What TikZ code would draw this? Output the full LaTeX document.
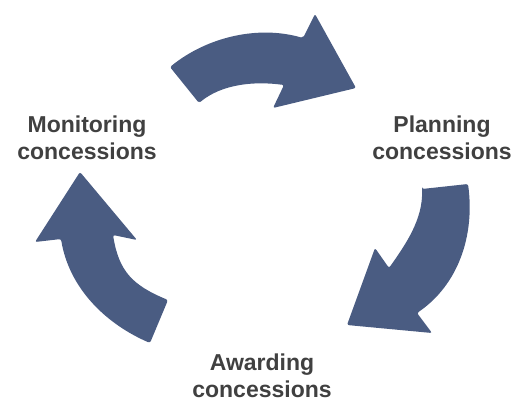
\documentclass[tikz,border=0pt]{standalone}
\usepackage{fontspec}
\setmainfont{Liberation Sans}
\usepackage{xcolor}
\usetikzlibrary{calc}
\definecolor{arrowblue}{RGB}{74,92,130}
\definecolor{labelgray}{RGB}{64,64,64}

\begin{document}
\begin{tikzpicture}[x=1pt,y=-1pt,
    cyclearrow/.style={fill=arrowblue,draw=none,rounded corners=2pt},
    steplabel/.style={align=center,inner sep=0pt,text=labelgray,
      font=\fontsize{23}{27}\selectfont\bfseries}]
        \useasboundingbox (0,0) rectangle (514,402);

        % top arrow
        \fill[cyclearrow] (199,103) -- (170,67)
          .. controls (207,37) and (258,25) .. (303,38)
          -- (315,14) -- (356,88) -- (273,108) -- (284,85)
          .. controls (254,81) and (222,84) .. cycle;

        % right arrow
        \fill[cyclearrow] (422,189) -- (468,184)
          .. controls (475,236) and (458,285) .. (417,313)
          -- (432,333) -- (347,325) -- (375,248) -- (389,268)
          .. controls (406,244) and (423,219) .. cycle;

        % left arrow
        \fill[cyclearrow] (80,172) -- (137,240) -- (113,235)
          .. controls (119,271) and (132,285) .. (168,300)
          -- (150,343)
          .. controls (104,323) and (69,287) .. (61,239)
          -- (35,242) -- cycle;

        \node[steplabel] (monitoring) at (87,138) {Monitoring\\concessions};
        \node[steplabel] (planning) at (442,138) {Planning\\concessions};
        \node[steplabel] (awarding) at (262,376) {Awarding\\concessions};
      \end{tikzpicture}
\end{document}
